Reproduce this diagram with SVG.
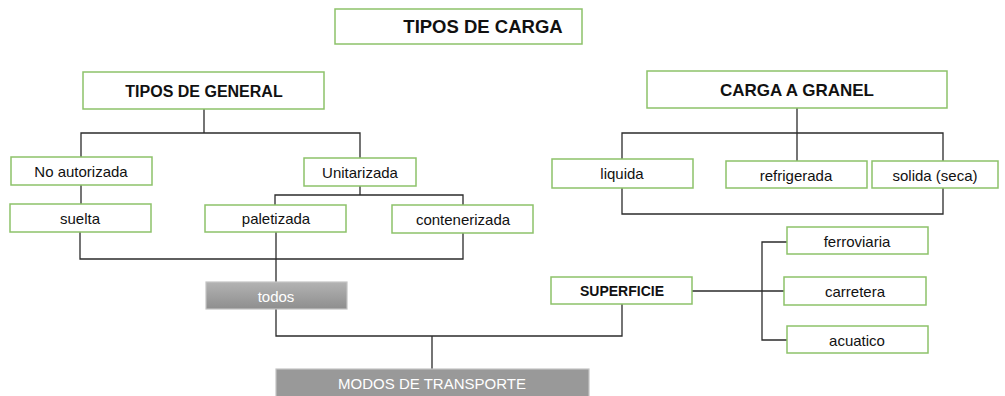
<svg xmlns="http://www.w3.org/2000/svg" width="1005" height="396" viewBox="0 0 1005 396">
<style>
.box{fill:#fff;stroke:#8dc26a;stroke-width:1.5}
.gray{stroke:#c4c4c4;stroke-width:1.2}
.t{font-family:"Liberation Sans",Arial,sans-serif;font-size:15px;fill:#111;text-anchor:middle;dominant-baseline:central}
.b{font-weight:bold}
.w{fill:#fff}
.c{fill:none;stroke:#2b2b2b;stroke-width:1.3}
</style>
<defs>
<linearGradient id="g1" x1="0" y1="0" x2="0" y2="1"><stop offset="0" stop-color="#b3b3b3"/><stop offset="1" stop-color="#8e8e8e"/></linearGradient>
</defs>
<rect width="1005" height="396" fill="#fff"/>
<g id="connectors">
<path class="c" d="M204,109 V133 M81,158 V133 H360 V158"/>
<path class="c" d="M81,185 V204"/>
<path class="c" d="M360,186 V195 M275,205 V195 H463 V205"/>
<path class="c" d="M80,232 V259 H463 V233 M276,232 V282"/>
<path class="c" d="M276,309 V336 H622 V304 M432,336 V369"/>
<path class="c" d="M692,291 H785 M787,242 H762 V340 H787"/>
<path class="c" d="M797,108 V161 M622,159 V133 H943 V214 H622 V188"/>
</g>
<g id="n-tipos-carga"><rect class="box" x="335" y="9" width="247" height="35"/><text class="t b" x="483" y="26" style="font-size:18.5px">TIPOS DE CARGA</text></g>
<g id="n-tipos-general"><rect class="box" x="83" y="72" width="241" height="37"/><text class="t b" x="204" y="91" style="font-size:16px">TIPOS DE GENERAL</text></g>
<g id="n-carga-granel"><rect class="box" x="647" y="71" width="300" height="37"/><text class="t b" x="797" y="90" style="font-size:17px">CARGA A GRANEL</text></g>
<g id="n-no-autorizada"><rect class="box" x="11" y="157" width="141" height="28"/><text class="t" x="81" y="171">No autorizada</text></g>
<g id="n-suelta"><rect class="box" x="10" y="204" width="141" height="28"/><text class="t" x="80" y="218">suelta</text></g>
<g id="n-unitarizada"><rect class="box" x="304" y="158" width="112" height="28"/><text class="t" x="360" y="172">Unitarizada</text></g>
<g id="n-paletizada"><rect class="box" x="205" y="205" width="141" height="27"/><text class="t" x="276" y="218">paletizada</text></g>
<g id="n-contenerizada"><rect class="box" x="392" y="205" width="141" height="28"/><text class="t" x="463" y="219">contenerizada</text></g>
<g id="n-liquida"><rect class="box" x="552" y="159" width="141" height="29"/><text class="t" x="622" y="173">liquida</text></g>
<g id="n-refrigerada"><rect class="box" x="726" y="161" width="141" height="27"/><text class="t" x="796" y="175">refrigerada</text></g>
<g id="n-solida"><rect class="box" x="872" y="161" width="126" height="27"/><text class="t" x="935" y="175">solida (seca)</text></g>
<g id="n-todos"><rect class="gray" x="206" y="282" width="141" height="27" fill="url(#g1)"/><text class="t w" x="276" y="296">todos</text></g>
<g id="n-superficie"><rect class="box" x="551" y="277" width="141" height="27"/><text class="t b" x="622" y="291" style="font-size:14px">SUPERFICIE</text></g>
<g id="n-ferroviaria"><rect class="box" x="787" y="227" width="141" height="27"/><text class="t" x="857" y="241">ferroviaria</text></g>
<g id="n-carretera"><rect class="box" x="784" y="277" width="142" height="28"/><text class="t" x="855" y="291">carretera</text></g>
<g id="n-acuatico"><rect class="box" x="787" y="326" width="141" height="27"/><text class="t" x="857" y="340">acuatico</text></g>
<g id="n-modos"><rect class="gray" x="276" y="369" width="313" height="30" fill="#999"/><text class="t w" x="432" y="383">MODOS DE TRANSPORTE</text></g>
</svg>
